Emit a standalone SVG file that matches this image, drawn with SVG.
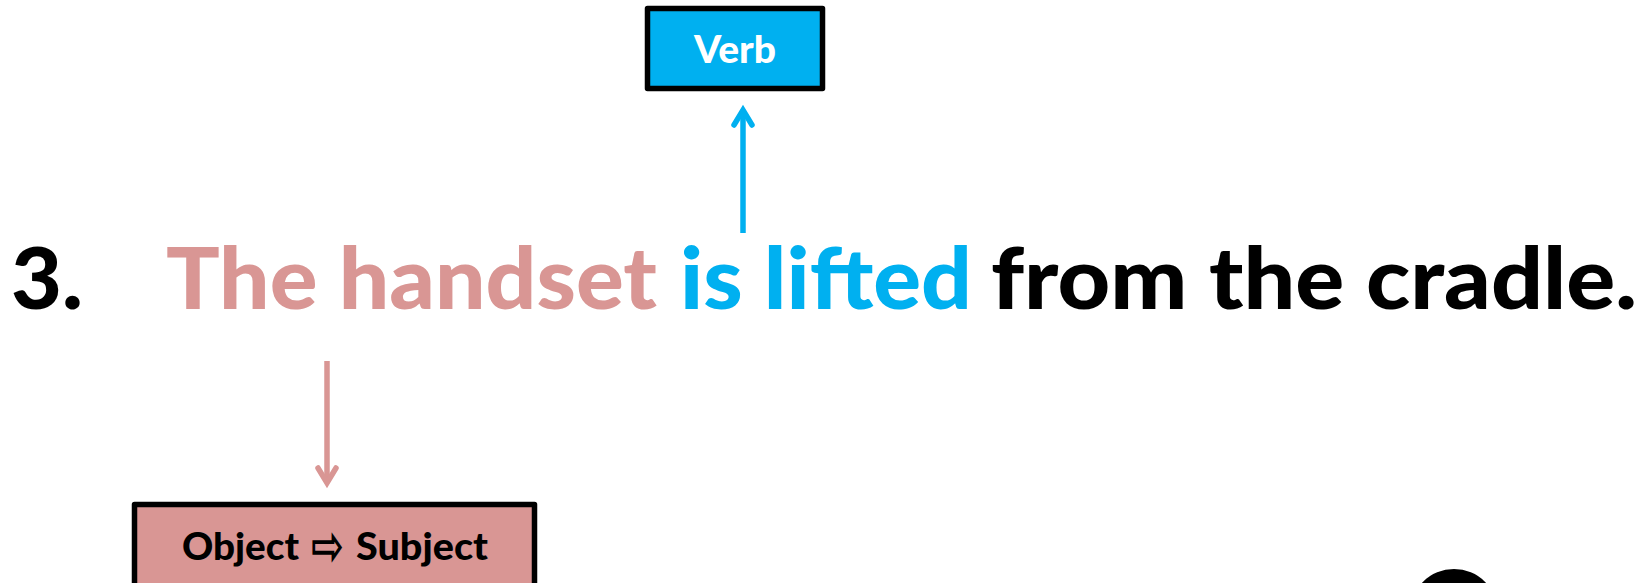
<svg xmlns="http://www.w3.org/2000/svg" width="1645" height="583" viewBox="0 0 1645 583">
<defs>
<style>
text{font-family:"Lato","Open Sans","Liberation Sans",sans-serif;font-weight:900}
.main{font-size:86px}
.lab{font-size:37px}
.pink{fill:#D99694}
.blue{fill:#00B0F0}
.ink{fill:#000}
.box{stroke:#000;stroke-width:5.500;stroke-linejoin:round}
.conn{fill:none;stroke-width:5.500;stroke-linecap:round;stroke-linejoin:miter}
</style>
</defs>
<rect width="1645" height="583" fill="#fff"/>
<g id="connectors">
<g stroke="#00B0F0" class="conn"><path d="M743 233V112" stroke-linecap="butt"/><path d="M734 125L743 110L752 125"/></g>
<g stroke="#D99694" class="conn"><path d="M327 361V481" stroke-linecap="butt"/><path d="M318 468L327 483L336 468"/></g>
</g>
<g id="node-verb">
<rect class="box blue" x="647.500" y="8.500" width="175" height="80"/>
<text x="694" y="63" class="lab" fill="#fff" textLength="82" lengthAdjust="spacingAndGlyphs">Verb</text>
</g>
<g id="sentence">
<text y="309" class="main"><tspan class="ink" x="11" textLength="72" lengthAdjust="spacingAndGlyphs">3.</tspan><tspan class="pink" x="166" textLength="491" lengthAdjust="spacingAndGlyphs">The handset</tspan><tspan class="blue" x="680" textLength="292" lengthAdjust="spacingAndGlyphs">is lifted</tspan><tspan class="ink" x="991" textLength="646" lengthAdjust="spacingAndGlyphs">from the cradle.</tspan></text>
</g>
<g id="node-object-subject">
<rect class="box pink" x="134.500" y="504.500" width="400" height="100"/>
<text y="560" class="lab ink"><tspan x="182" textLength="117" lengthAdjust="spacingAndGlyphs">Object</tspan><tspan x="311" y="565" style="font-family:'DejaVu Sans',sans-serif;font-weight:700;font-size:56px" textLength="33" lengthAdjust="spacingAndGlyphs">⇨</tspan><tspan x="356" y="560" textLength="132" lengthAdjust="spacingAndGlyphs">Subject</tspan></text>
</g>
<ellipse id="node-shape" cx="1454" cy="613" rx="44" ry="44" fill="#000"/>
</svg>
